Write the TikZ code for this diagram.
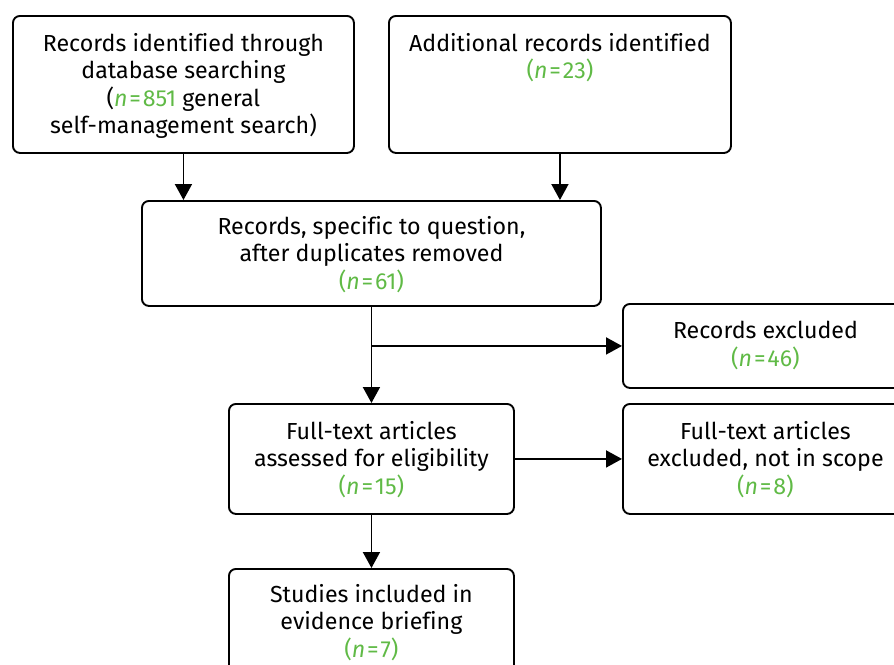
\documentclass[tikz,border=0pt]{standalone}
\usepackage{fontspec}
\setmainfont[Ligatures=NoCommon]{Fira Sans}
\usetikzlibrary{arrows.meta}
\definecolor{ngreen}{RGB}{96,186,70}
\newcommand{\nv}[1]{\textit{n}\hspace{0.08em}=\hspace{0.08em}#1}
\newcommand{\nval}[1]{\textcolor{ngreen}{(\nv{#1})}}
\begin{document}
\begin{tikzpicture}[x=1pt,y=-1pt,
  box/.style={draw, line width=1.9pt, rounded corners=7pt, anchor=north west, inner sep=0pt},
  txt/.style={anchor=north, align=center, inner sep=0pt, font=\fontsize{23.2}{27.5}\selectfont},
  arr/.style={line width=1.9pt, -{Triangle[width=17pt,length=16pt]}}]
\useasboundingbox (0,0) rectangle (894,664);
\clip (0,0) rectangle (894,664);
\node[box, minimum width=341pt, minimum height=137pt] (A) at (12,15) {};
\node[box, minimum width=342pt, minimum height=137pt] (B) at (388,15) {};
\node[box, minimum width=459pt, minimum height=105pt] (C) at (141,200) {};
\node[box, minimum width=285pt, minimum height=84pt] (D) at (622,303) {};
\node[box, minimum width=285pt, minimum height=110pt] (E) at (228,403) {};
\node[box, minimum width=285pt, minimum height=110pt] (F) at (622,403) {};
\node[box, minimum width=285pt, minimum height=110pt] (G) at (228,568) {};
\node[txt] (At) at ([yshift=-18pt]A.north) {Records identified through\\database searching\\(\textcolor{ngreen}{\nv{851}} general\\self-management search)};
\node[txt] (Bt) at ([yshift=-18pt]B.north) {Additional records identified\\\nval{23}};
\node[txt] (Ct) at ([yshift=-16pt]C.north) {Records, specific to question,\\after duplicates removed\\\nval{61}};
\node[txt] (Dt) at ([yshift=-18pt]D.north) {Records excluded\\\nval{46}};
\node[txt] (Et) at ([yshift=-18pt]E.north) {Full-text articles\\assessed for eligibility\\\nval{15}};
\node[txt] (Ft) at ([yshift=-18pt]F.north) {Full-text articles\\excluded, not in scope\\\nval{8}};
\node[txt] (Gt) at ([yshift=-16pt]G.north) {Studies included in\\evidence briefing\\\nval{7}};
\draw[arr] (A.south) -- (A.south |- C.north);
\draw[arr] (B.south) -- (B.south |- C.north);
\draw[arr] (C.south) -- (E.north);
\coordinate (br) at (C.south |- D.west);
\draw[arr] (br) -- (D.west);
\draw[arr] (E.east) -- (F.west);
\draw[arr] (E.south) -- (G.north);
\end{tikzpicture}
\end{document}
